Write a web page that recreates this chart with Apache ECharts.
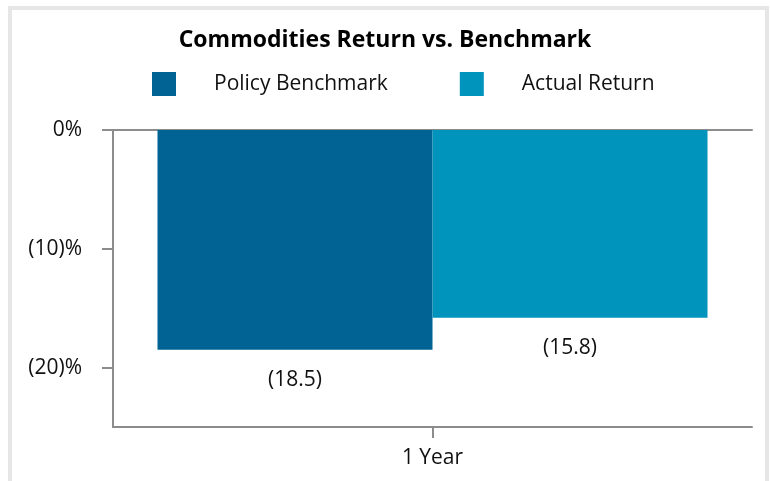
<!DOCTYPE html>
<html>
<head>
<meta charset="utf-8">
<script src="https://cdn.jsdelivr.net/npm/echarts@6/dist/echarts.min.js"></script>
<style>
  html, body { margin: 0; padding: 0; background: #fff; }
  #chart { width: 770px; height: 481px; }
</style>
</head>
<body>
<div id="chart"></div>
<script>
  // chart data
  var categories = ['1 Year'];
  var policyBenchmark = [-18.5];
  var actualReturn = [-15.8];
  var yTicks = [0, -10, -20];

  var font = '"Open Sans", "Noto Sans", sans-serif';
  var axisGray = '#8c8c8c';

  function pctLabel(v) {
    return v === 0 ? '0%' : '(' + Math.abs(v) + ')%';
  }
  function valLabel(p) {
    return '(' + Math.abs(p.value).toFixed(1) + ')';
  }

  var chart = echarts.init(document.getElementById('chart'));
  chart.setOption({
    animation: false,
    title: {
      text: 'Commodities Return vs. Benchmark',
      left: 'center',
      top: 24,
      textStyle: { fontFamily: font, fontSize: 23, fontWeight: 'bold', color: '#000' }
    },
    legend: {
      top: 72,
      left: 152,
      padding: 0,
      itemWidth: 24,
      itemHeight: 24,
      itemGap: 72,
      icon: 'rect',
      textStyle: { fontFamily: font, fontSize: 21, color: '#111', padding: [2, 0, 0, 33] },
      data: ['Policy Benchmark', 'Actual Return']
    },
    graphic: [{
      type: 'rect',
      shape: { x: 10, y: 8, width: 757, height: 490 },
      style: { fill: 'none', stroke: '#e6e6e6', lineWidth: 4 },
      silent: true
    }],
    grid: { left: 113, right: 18, top: 130, bottom: 54 },
    xAxis: [{
      type: 'category',
      data: categories,
      position: 'bottom',
      axisLine: { onZero: false, lineStyle: { color: axisGray, width: 2 } },
      axisTick: { show: true, interval: 0, alignWithLabel: true, length: 11, lineStyle: { color: axisGray, width: 2 } },
      axisLabel: { margin: 21, fontFamily: font, fontSize: 21, color: '#111' }
    }, {
      type: 'category',
      data: categories,
      position: 'top',
      axisLine: { onZero: false, lineStyle: { color: axisGray, width: 2 } },
      axisTick: { show: false },
      axisLabel: { show: false }
    }],
    yAxis: {
      type: 'value',
      min: -25,
      max: 0,
      splitLine: { show: false },
      axisLine: { show: true, lineStyle: { color: axisGray, width: 2 } },
      axisTick: { show: true, length: 11, customValues: yTicks, lineStyle: { color: axisGray, width: 2 } },
      axisLabel: { margin: 31, customValues: yTicks, formatter: pctLabel, fontFamily: font, fontSize: 21, color: '#111' }
    },
    series: [{
      name: 'Policy Benchmark',
      type: 'bar',
      data: policyBenchmark,
      barWidth: 275,
      barGap: '0%',
      itemStyle: { color: '#006394' },
      label: { show: true, position: 'bottom', distance: 20, formatter: valLabel, fontFamily: font, fontSize: 21, color: '#111' }
    }, {
      name: 'Actual Return',
      type: 'bar',
      data: actualReturn,
      barWidth: 275,
      barGap: '0%',
      itemStyle: { color: '#0093bc' },
      label: { show: true, position: 'bottom', distance: 20, formatter: valLabel, fontFamily: font, fontSize: 21, color: '#111' }
    }]
  });
  window.addEventListener('resize', chart.resize);
</script>
</body>
</html>
